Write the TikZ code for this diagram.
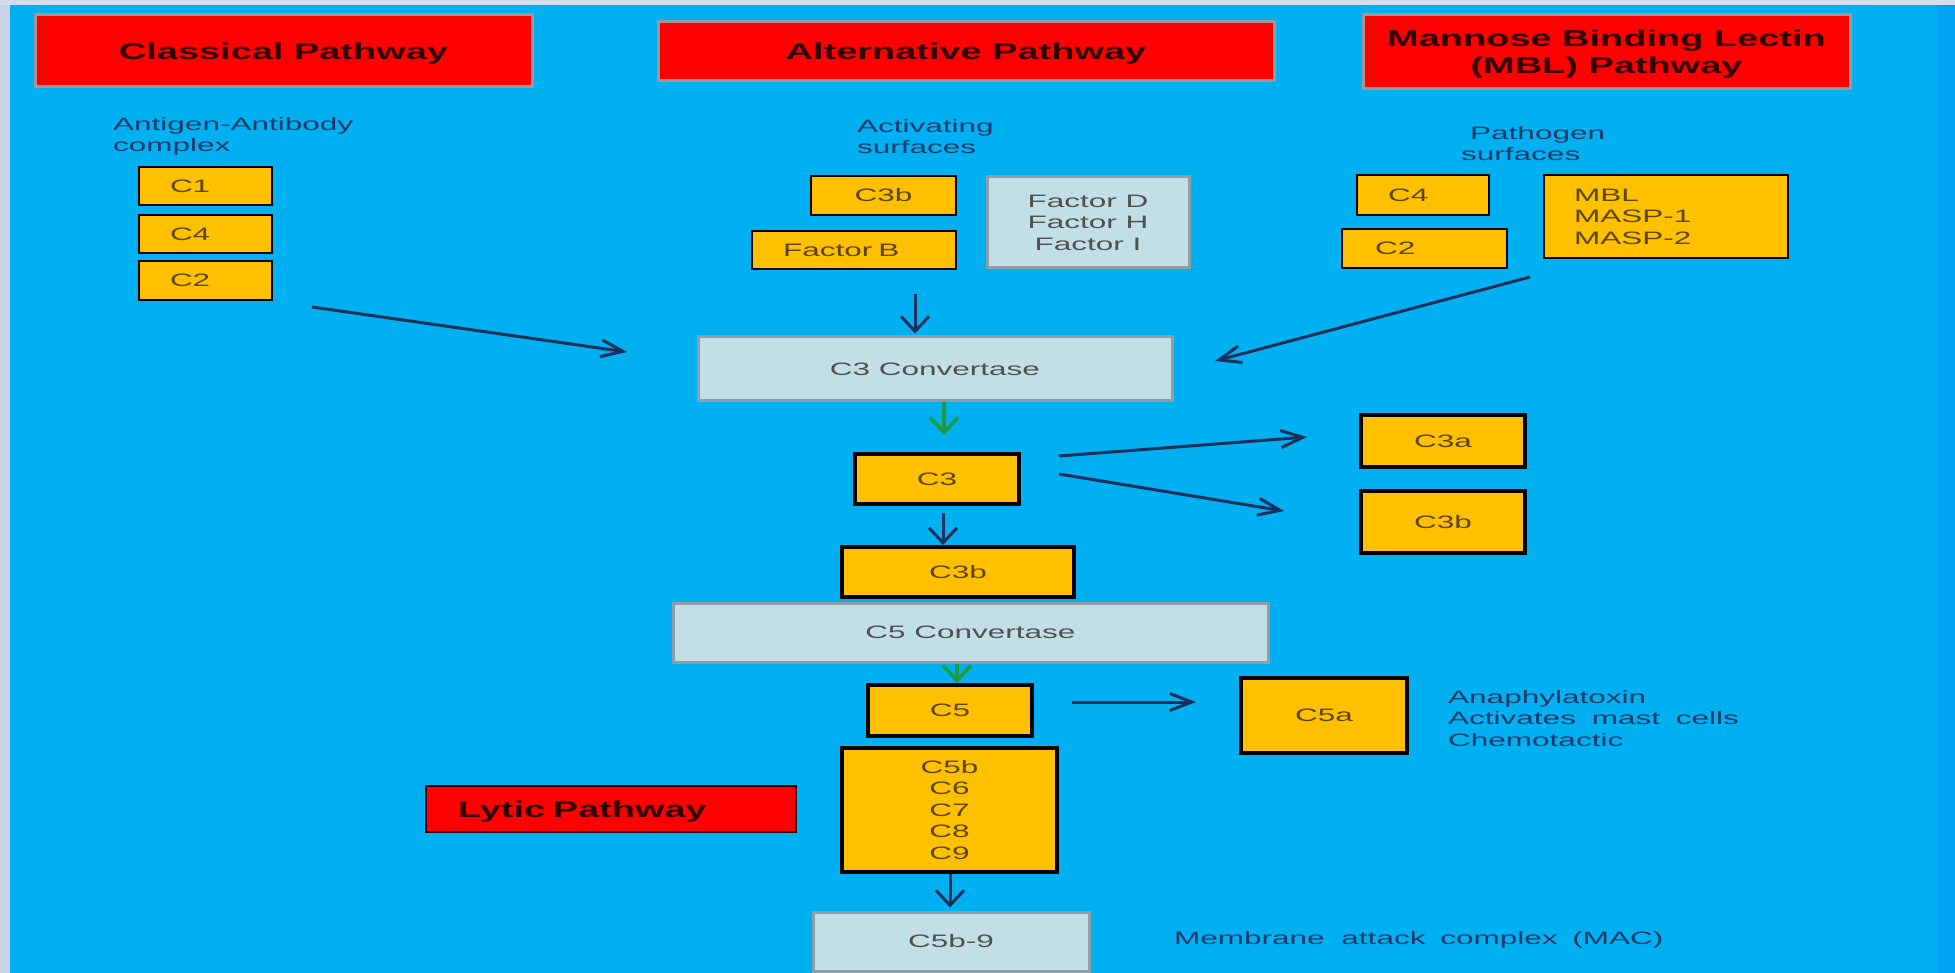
\documentclass[tikz,border=0pt]{standalone}
\usepackage{fontspec}
\setmainfont{Liberation Sans}[FakeStretch=1.75]
\newfontfamily\hdfont{Liberation Sans}[FakeStretch=1.65]
\usetikzlibrary{arrows.meta}
\definecolor{bgblue}{HTML}{00B0F0}
\definecolor{leftstrip}{HTML}{C9D2E6}
\definecolor{hdrred}{HTML}{FF0000}
\definecolor{hdrline}{HTML}{A39696}
\definecolor{hdrtext}{HTML}{300000}
\definecolor{lgfill}{HTML}{C2DFE6}
\definecolor{lgline}{HTML}{8F9EA6}
\definecolor{lgtext}{HTML}{505050}
\definecolor{orng}{HTML}{FFC000}
\definecolor{otext}{HTML}{5A4600}
\definecolor{navy}{HTML}{1B2F5C}
\definecolor{navytext}{HTML}{1A3A6A}
\definecolor{grn}{HTML}{1F9A3A}
\begin{document}
\begin{tikzpicture}[x=1pt,y=-1pt,
  txt/.style={font=\fontsize{18}{21.5}\selectfont},
  hdr/.style={draw=hdrline, line width=3pt, fill=hdrred, font=\hdfont\bfseries\fontsize{23}{27}\selectfont, text=hdrtext, inner sep=0pt, align=center, text depth=-2pt},
  lbox/.style={draw=lgline, line width=3pt, fill=lgfill, txt, text=lgtext, inner sep=0pt, align=center},
  obox/.style={draw=black, line width=2.5pt, fill=orng, txt, text=otext, inner sep=0pt, align=center},
  tbox/.style={obox, line width=4pt},
  note/.style={txt, text=navytext, inner sep=0pt, align=left, anchor=west},
  arr/.style={draw=navy, line width=3pt, -{Straight Barb[length=22pt,width=17pt,line width=3pt]}},
  varr/.style={draw=navy, line width=3pt, -{Straight Barb[length=15pt,width=28pt,line width=3pt]}},
  garr/.style={draw=grn, line width=3.5pt, -{Straight Barb[length=15pt,width=28pt,line width=3.5pt]}}
]
\useasboundingbox (0,0) rectangle (1955,973);
% background
\fill[bgblue] (0,0) rectangle (1955,973);
\fill[leftstrip] (0,0) rectangle (10,973);
\fill[leftstrip!80!white] (0,0) rectangle (1955,5);
\fill[bgblue!92!blue] (1937,5) rectangle (1955,973);

% headers
\node[hdr, minimum width=497pt, minimum height=72pt] (cls) at (283.5,51) {Classical Pathway};
\node[hdr, minimum width=616pt, minimum height=59pt] (alt) at (966,51.5) {Alternative Pathway};
\node[hdr, minimum width=487pt, minimum height=74pt] (mbl) at (1606.5,52) {Mannose Binding Lectin\\(MBL) Pathway};

% classical
\node[note] (agab) at (113,136.5) {Antigen-Antibody\\complex};
\node[obox, minimum height=38pt, text width=71pt, inner xsep=31pt, align=left] (lc1) at (205.5,186) {C1};
\node[obox, minimum height=38pt, text width=71pt, inner xsep=31pt, align=left] (lc4) at (205.5,234) {C4};
\node[obox, minimum height=39pt, text width=71pt, inner xsep=31pt, align=left] (lc2) at (205.5,280.5) {C2};

% alternative
\node[note] (act) at (857,136.5) {Activating\\surfaces};
\node[obox, minimum width=145pt, minimum height=39pt] (ac3b) at (883.5,195.5) {C3b};
\node[obox, minimum height=38pt, text width=142pt, inner xsep=31pt, align=left] (afb) at (854,250) {Factor B};
\node[lbox, minimum width=202pt, minimum height=91pt] (fac) at (1088,222.5) {Factor D\\Factor H\\Factor I};

% lectin
\node[note] (path) at (1461,143.5) {\hspace*{9pt}Pathogen\\surfaces};
\node[obox, minimum height=40pt, text width=70pt, inner xsep=31pt, align=left] (mc4) at (1423,195) {C4};
\node[obox, minimum height=39pt, text width=99pt, inner xsep=33pt, align=left] (mc2) at (1424.5,248.5) {C2};
\node[obox, minimum height=83pt, text width=184pt, inner xsep=30pt, align=left] (mmbl) at (1666,216.5) {MBL\\MASP-1\\MASP-2};

% central cascade
\node[lbox, minimum width=474pt, minimum height=64pt] (c3conv) at (935,369) {C3 Convertase};
\node[tbox, minimum width=164pt, minimum height=50pt] (c3) at (937,479) {C3};
\node[tbox, minimum width=164pt, minimum height=52pt] (c3a) at (1443,441) {C3a};
\node[tbox, minimum width=164pt, minimum height=62pt] (c3br) at (1443,522) {C3b};
\node[tbox, minimum width=232pt, minimum height=50pt] (c3bm) at (958,572) {C3b};
\node[lbox, minimum width=595pt, minimum height=59pt] (c5conv) at (970.5,632.5) {C5 Convertase};
\node[tbox, minimum width=164pt, minimum height=51pt] (c5) at (950,710.5) {C5};
\node[tbox, minimum width=166pt, minimum height=75pt] (c5a) at (1324,715.5) {C5a};
\node[note] (anaph) at (1448,718.5) {Anaphylatoxin\\Activates\hspace{7pt} mast\hspace{7pt} cells\\Chemotactic};
\node[tbox, minimum width=215pt, minimum height=124pt] (c5b) at (949.5,810) {C5b\\C6\\C7\\C8\\C9};
\node[hdr, draw=hdrtext!80!black, line width=2.5pt, minimum height=46pt, text width=306pt, inner xsep=32pt, align=left] (lytic) at (611,809) {Lytic Pathway};
\node[lbox, minimum width=276pt, minimum height=59pt] (c5b9) at (951,941.5) {C5b-9};
\node[note] (mac) at (1174,940) {Membrane\hspace{8pt} attack\hspace{6pt} complex\hspace{6pt} (MAC)};

% connector end points
\coordinate (cl1) at (312,307);
\coordinate (cl2) at (627,352);
\coordinate (mb1) at (1530,277);
\coordinate (mb2) at (1215,361);
\coordinate (fb1) at (915,294);
\coordinate (x944) at (944,0);
\coordinate (x943) at (943,0);
\coordinate (x957) at (957,0);
\coordinate (x950) at (950,0);
\coordinate (ca1) at (1059,456);
\coordinate (ca2) at (1307,437);
\coordinate (cb1) at (1059,474);
\coordinate (cb2) at (1284,511);
\coordinate (c5s) at (1072,702);
\coordinate (c5e) at (1196,702);

% connectors
\draw[arr] (cl1) -- (cl2);
\draw[arr] (mb1) -- (mb2);
\draw[varr, shorten >=2pt] (fb1) -- (fb1 |- c3conv.north);
\draw[garr, shorten >=17pt] (c3conv.south -| x944) -- (c3.north -| x944);
\draw[arr] (ca1) -- (ca2);
\draw[arr] (cb1) -- (cb2);
\draw[varr, shorten <=7pt] (c3.south -| x943) -- (c3bm.north -| x943);
\draw[garr] (c5conv.south -| x957) -- (c5.north -| x957);
\draw[arr] (c5s) -- (c5e);
\draw[varr, shorten >=3pt] (c5b.south -| x950) -- (c5b9.north -| x950);
\end{tikzpicture}
\end{document}
